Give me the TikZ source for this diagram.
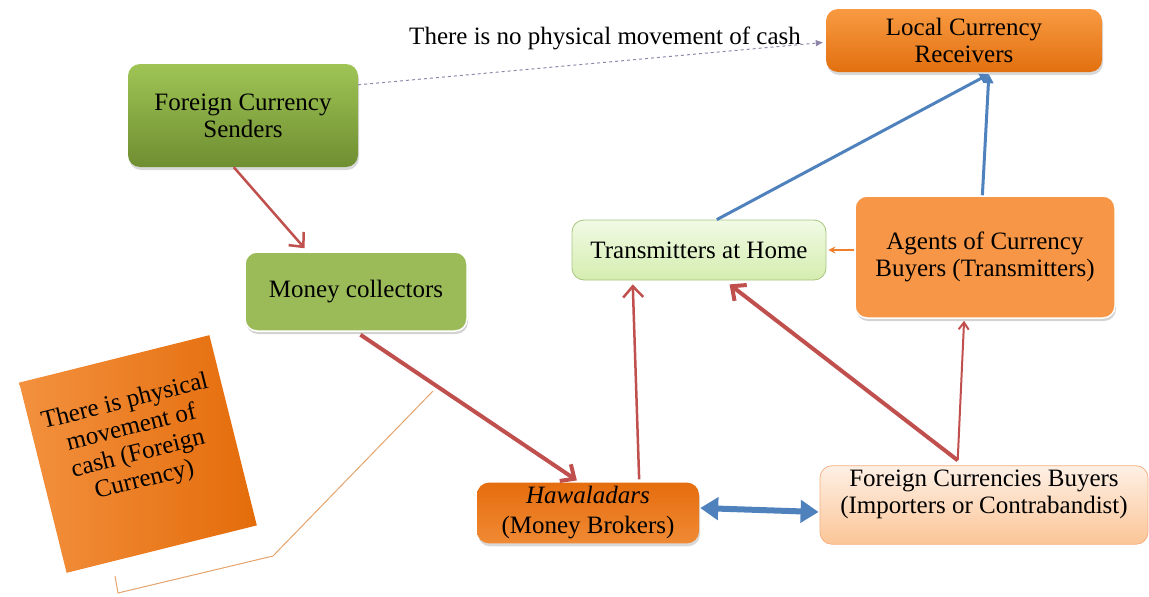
\documentclass[tikz,border=0pt]{standalone}
\usepackage{fontspec}
\setmainfont{Liberation Serif}
\usetikzlibrary{arrows.meta, calc, shadows}

\definecolor{grntop}{HTML}{9FC455}
\definecolor{grnbot}{HTML}{6F8E31}
\definecolor{grnflat}{HTML}{9BBB59}
\definecolor{orgtop}{HTML}{F89A42}
\definecolor{orgbot}{HTML}{E2700F}
\definecolor{orgflat}{HTML}{F79646}
\definecolor{hawtop}{HTML}{E56D0E}
\definecolor{hawbot}{HTML}{F08A34}
\definecolor{homtop}{HTML}{F1FAE4}
\definecolor{hombot}{HTML}{D5EDB0}
\definecolor{homline}{HTML}{A9C47F}
\definecolor{buytop}{HTML}{FEF0E5}
\definecolor{buybot}{HTML}{FBC597}
\definecolor{buyline}{HTML}{F4B183}
\definecolor{notleft}{HTML}{F3913F}
\definecolor{notright}{HTML}{E46C0A}
\definecolor{arrred}{HTML}{C0504D}
\definecolor{arrblue}{HTML}{4F81BD}
\definecolor{arrorange}{HTML}{F07F2C}
\definecolor{dashpurple}{HTML}{9086AA}
\definecolor{calloutline}{HTML}{E4A36B}

\begin{document}
\begin{tikzpicture}[x=1pt, y=-1pt,
    box/.style={rectangle, rounded corners=12pt, align=center,
        font=\fontsize{25}{27}\selectfont, inner sep=4pt},
    greenbox/.style={box, top color=grntop, bottom color=grnbot,
        drop shadow={shadow xshift=1pt, shadow yshift=-3pt, opacity=0.3}},
    flatgreen/.style={box, fill=grnflat, draw=white, line width=1.5pt,
        drop shadow={shadow xshift=1pt, shadow yshift=-3pt, opacity=0.35}},
    orangebox/.style={box, top color=orgtop, bottom color=orgbot,
        drop shadow={shadow xshift=1pt, shadow yshift=-3pt, opacity=0.3}},
    flatorange/.style={box, fill=orgflat, draw=white, line width=1.5pt,
        drop shadow={shadow xshift=1pt, shadow yshift=-3pt, opacity=0.35}},
    hawbox/.style={box, top color=hawtop, bottom color=hawbot,
        drop shadow={shadow xshift=1pt, shadow yshift=-3pt, opacity=0.3}},
    homebox/.style={box, top color=homtop, bottom color=hombot, draw=homline, line width=0.8pt},
    buybox/.style={box, top color=buytop, bottom color=buybot, draw=buyline, line width=0.8pt},
    redarrow/.style={draw=arrred, -{Straight Barb[length=11pt, width=20pt]}},
    bluearrow/.style={draw=arrblue, line width=3pt, -{Triangle[length=9pt, width=10pt]}}
]
    \useasboundingbox (0,0) rectangle (1149,597);

    % draw boxes
    \node[orangebox, minimum width=276pt, minimum height=63pt] (recv) at (964,40.5)
        {Local Currency\\Receivers};
    \node[greenbox, minimum width=230pt, minimum height=103pt] (send) at (243,115.5)
        {Foreign Currency\\Senders};
    \node[flatgreen, minimum width=222pt, minimum height=79pt] (coll) at (356,291.5)
        {Money collectors};
    \node[homebox, minimum width=254pt, minimum height=60pt] (home) at (699,250)
        {Transmitters at Home};
    \node[flatorange, minimum width=260pt, minimum height=122pt] (agents) at (985,257)
        {Agents of Currency\\Buyers (Transmitters)};
    \node[hawbox, minimum width=222pt, minimum height=60pt] (hawala) at (588,513)
        {\textit{Hawaladars}\\[3pt](Money Brokers)};
    \node[buybox, minimum width=328pt, minimum height=74pt] (buyers) at (984,505)
        {Foreign Currencies Buyers\\(Importers or Contrabandist)\\\mbox{}};

    % draw note about physical cash
    \node[rectangle, left color=notleft, right color=notright, minimum width=196pt,
        minimum height=196pt, rotate=14, align=center, font=\fontsize{25}{27}\selectfont]
        (cash) at (138,454) {There is physical\\movement of\\cash (Foreign\\Currency)\\[4pt]\mbox{}};
    \node[font=\fontsize{25}{27}\selectfont] (nocash) at (605,38)
        {There is no physical movement of cash};

    % draw callout line
    \coordinate (c1) at (433,391);
    \coordinate (c2) at (273,556);
    \coordinate (c3) at (118,593);
    \coordinate (c4) at (115,576);
    \draw[calloutline, line width=1pt] (c1) -- (c2) -- (c3) -- (c4);

    % draw dashed link
    \draw[dashpurple, line width=1pt, dashed, -{Triangle[length=7pt, width=6pt]}]
        ($(send.north east)+(0,21)$) -- ($(recv.west)+(-3,2)$);

    % draw red arrows
    \draw[redarrow, line width=2.5pt] ($(send.south west)!0.46!(send.south east)$)
        -- ($(coll.north west)!0.27!(coll.north east)+(0,-3)$);
    \draw[redarrow, line width=4pt] ($(coll.south west)!0.52!(coll.south east)+(0,3)$)
        -- ($(hawala.north west)!0.45!(hawala.north east)+(0,-2)$);
    \draw[redarrow, line width=2.5pt] ($(hawala.north west)!0.73!(hawala.north east)+(0,-3)$)
        -- ($(home.south west)!0.24!(home.south east)+(0,4)$);
    \draw[redarrow, line width=4pt] ($(buyers.north west)!0.42!(buyers.north east)+(0,-5)$)
        -- ($(home.south west)!0.62!(home.south east)+(0,4)$);
    \draw[redarrow, line width=2pt, -{Straight Barb[length=7pt, width=10pt]}]
        ($(buyers.north west)!0.42!(buyers.north east)+(0,-5)$)
        -- ($(agents.south west)!0.42!(agents.south east)+(0,2)$);

    % draw orange arrow
    \draw[arrorange, line width=2pt, -{Stealth[length=7pt, width=7pt]}]
        (agents.west |- home.east) -- ($(home.east)+(2,0)$);

    % draw blue arrows
    \draw[bluearrow] ($(home.north west)!0.57!(home.north east)$)
        -- ($(recv.south west)!0.59!(recv.south east)+(0,2)$);
    \draw[bluearrow] ($(agents.north west)!0.49!(agents.north east)$)
        -- ($(recv.south west)!0.59!(recv.south east)+(0,2)$);
    \draw[arrblue, line width=6pt, {Triangle[length=18pt, width=22pt]}-{Triangle[length=18pt, width=22pt]}]
        ($(hawala.east)+(1,-5)$) -- ($(buyers.west)+(-1,7)$);
\end{tikzpicture}
\end{document}
